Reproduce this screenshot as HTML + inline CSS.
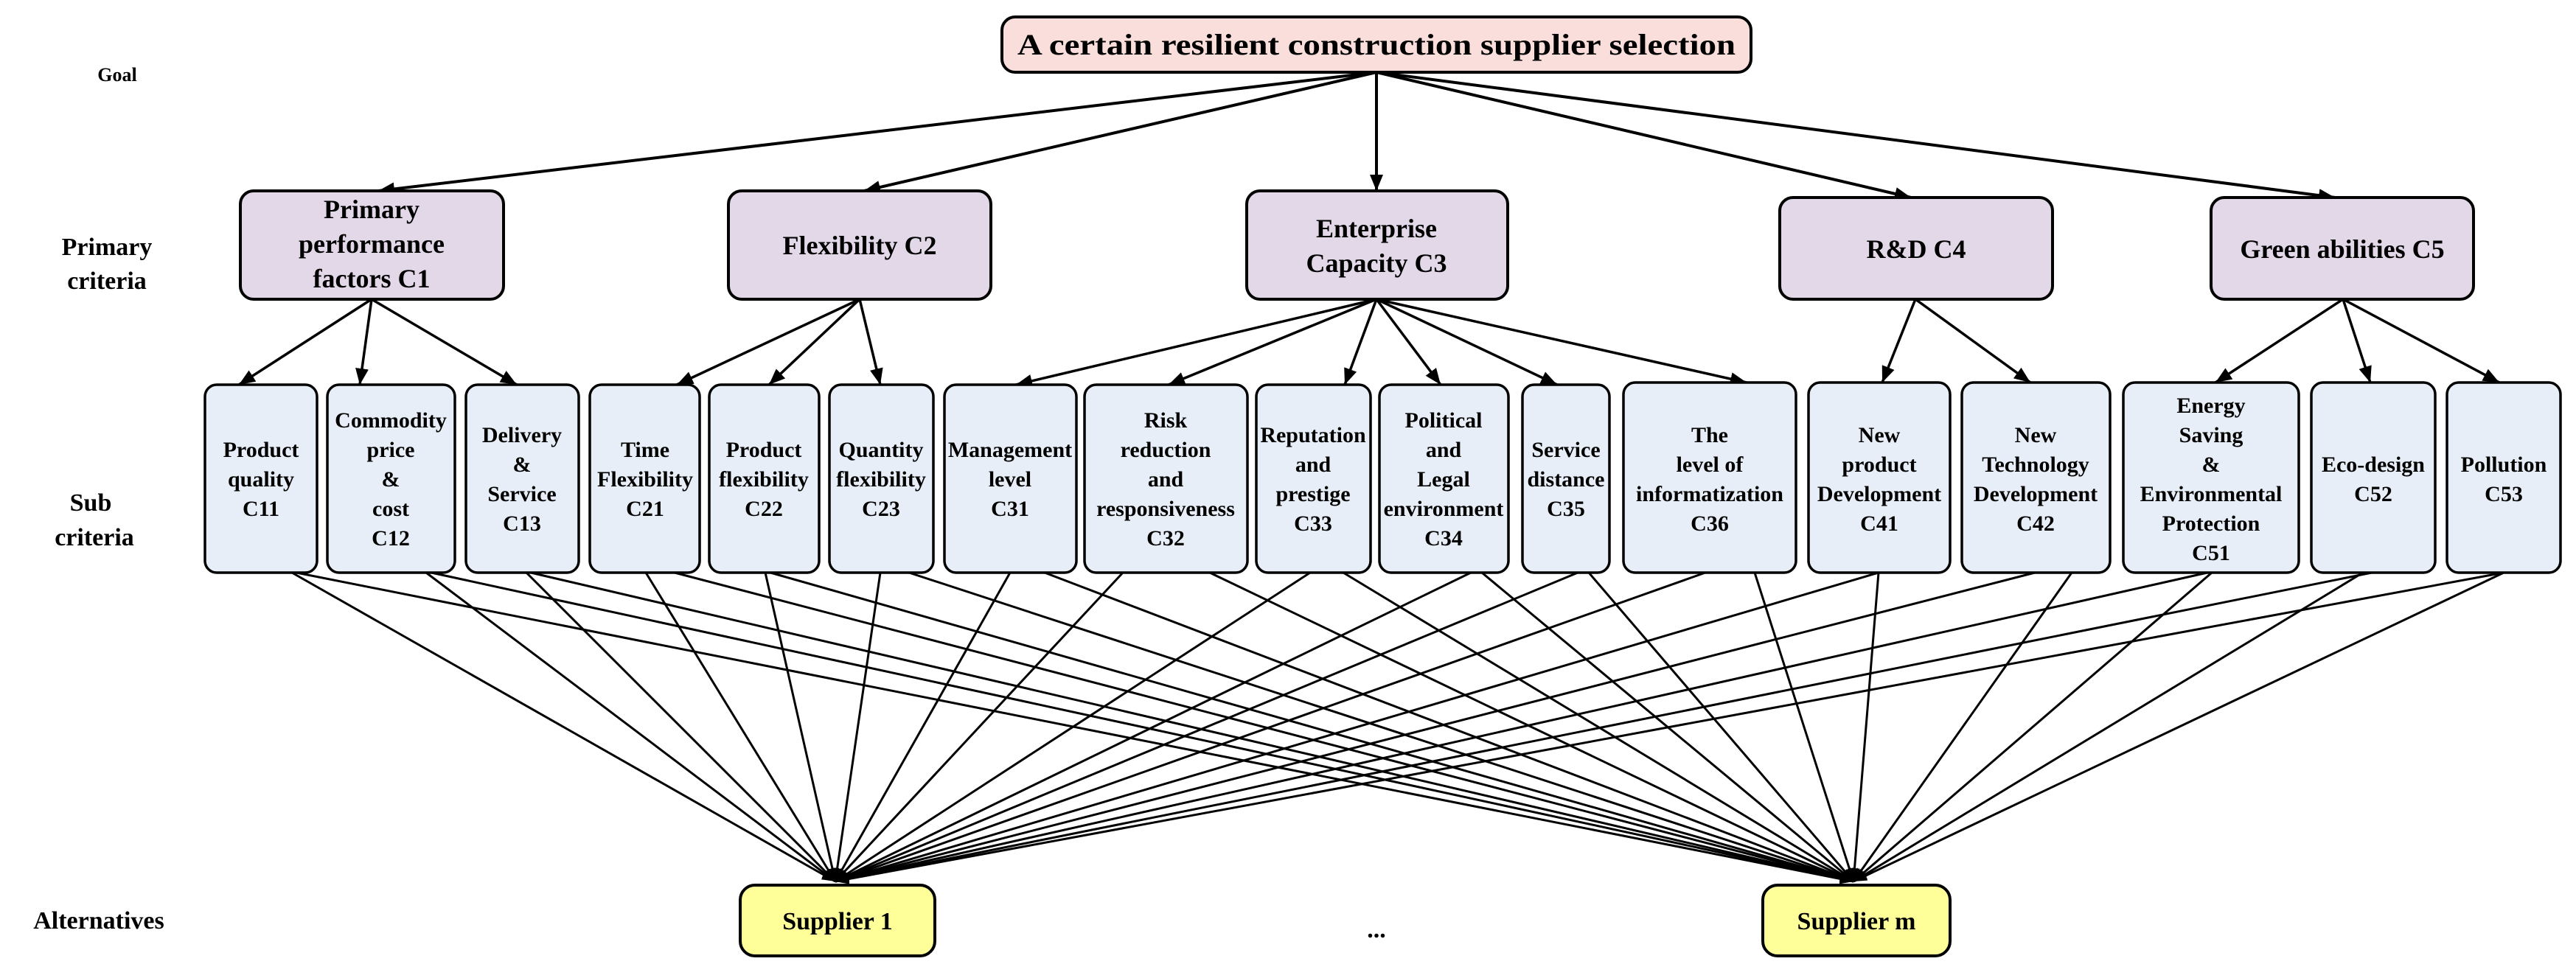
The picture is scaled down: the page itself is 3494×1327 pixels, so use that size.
<!DOCTYPE html>
<html><head><meta charset="utf-8"><style>
html,body{margin:0;padding:0;background:#fff;}
svg{display:block;}
text{font-family:"Liberation Serif",serif;font-weight:bold;fill:#000;}
</style></head><body>
<svg width="3494" height="1327" viewBox="0 0 3494 1327" xmlns="http://www.w3.org/2000/svg">
<defs>
<marker id="ah" markerUnits="userSpaceOnUse" markerWidth="24" markerHeight="18" refX="22" refY="9" orient="auto">
<path d="M0,0 L22,9 L0,18 z" fill="#000"/></marker>
<marker id="ah2" markerUnits="userSpaceOnUse" markerWidth="20" markerHeight="14" refX="18" refY="7" orient="auto">
<path d="M0,0 L18,7 L0,14 z" fill="#000"/></marker>
</defs>

<!-- left labels -->
<text x="159" y="110" font-size="26" text-anchor="middle">Goal</text>
<text x="145" y="346" font-size="34" text-anchor="middle">Primary</text>
<text x="145" y="392" font-size="34" text-anchor="middle">criteria</text>
<text x="123" y="693" font-size="34" text-anchor="middle">Sub</text>
<text x="128" y="740" font-size="34" text-anchor="middle">criteria</text>
<text x="134" y="1260" font-size="34" text-anchor="middle">Alternatives</text>

<!-- goal -->
<rect x="1359" y="23" width="1016" height="75" rx="18" fill="#f9dedb" stroke="#000" stroke-width="4"/>
<text x="1867" y="74" font-size="40" text-anchor="middle" textLength="974" lengthAdjust="spacingAndGlyphs">A certain resilient construction supplier selection</text>

<!-- goal to primary arrows -->
<g stroke="#000" stroke-width="4" fill="none" marker-end="url(#ah)">
<line x1="1867" y1="98" x2="513" y2="259"/>
<line x1="1867" y1="98" x2="1172" y2="259"/>
<line x1="1867" y1="98" x2="1867" y2="259"/>
<line x1="1867" y1="98" x2="2592" y2="268"/>
<line x1="1867" y1="98" x2="3167" y2="268"/>
</g>

<!-- primary boxes -->
<g fill="#e2d8e8" stroke="#000" stroke-width="4">
<rect x="326" y="259" width="357" height="147" rx="18"/>
<rect x="988" y="259" width="356" height="147" rx="18"/>
<rect x="1691" y="259" width="354" height="147" rx="18"/>
<rect x="2414" y="268" width="370" height="138" rx="18"/>
<rect x="2999" y="268" width="356" height="138" rx="18"/>
</g>
<g font-size="36" text-anchor="middle">
<text x="504" y="296">Primary</text>
<text x="504" y="343">performance</text>
<text x="504" y="390">factors C1</text>
<text x="1166" y="345">Flexibility C2</text>
<text x="1867" y="322">Enterprise</text>
<text x="1867" y="369">Capacity C3</text>
<text x="2599" y="350">R&amp;D C4</text>
<text x="3177" y="350">Green abilities C5</text>
</g>

<!-- primary to sub arrows -->
<g stroke="#000" stroke-width="3.5" fill="none" marker-end="url(#ah)">
<line x1="504" y1="406" x2="324" y2="522"/>
<line x1="504" y1="406" x2="488" y2="522"/>
<line x1="504" y1="406" x2="701" y2="522"/>
<line x1="1166" y1="406" x2="918" y2="522"/>
<line x1="1166" y1="406" x2="1043" y2="522"/>
<line x1="1166" y1="406" x2="1194" y2="522"/>
<line x1="1867" y1="406" x2="1378" y2="522"/>
<line x1="1867" y1="406" x2="1585" y2="522"/>
<line x1="1867" y1="406" x2="1824" y2="522"/>
<line x1="1867" y1="406" x2="1954" y2="522"/>
<line x1="1867" y1="406" x2="2112" y2="522"/>
<line x1="1867" y1="406" x2="2369" y2="519"/>
<line x1="2598" y1="406" x2="2553" y2="519"/>
<line x1="2598" y1="406" x2="2754" y2="519"/>
<line x1="3178" y1="406" x2="3005" y2="519"/>
<line x1="3178" y1="406" x2="3215" y2="519"/>
<line x1="3178" y1="406" x2="3390" y2="519"/>
</g>

<!-- sub to supplier lines -->
<g stroke="#000" stroke-width="3" fill="none">
<line x1="396" y1="777" x2="1133" y2="1196" marker-end="url(#ah2)"/><line x1="402" y1="777" x2="2514" y2="1196" marker-end="url(#ah2)"/>
<line x1="578" y1="777" x2="1133" y2="1196" marker-end="url(#ah2)"/><line x1="585" y1="777" x2="2514" y2="1196" marker-end="url(#ah2)"/>
<line x1="714" y1="777" x2="1133" y2="1196" marker-end="url(#ah2)"/><line x1="720" y1="777" x2="2514" y2="1196" marker-end="url(#ah2)"/>
<line x1="876" y1="777" x2="1133" y2="1196" marker-end="url(#ah2)"/><line x1="915" y1="777" x2="2514" y2="1196" marker-end="url(#ah2)"/>
<line x1="1038" y1="777" x2="1133" y2="1196" marker-end="url(#ah2)"/><line x1="1045" y1="777" x2="2514" y2="1196" marker-end="url(#ah2)"/>
<line x1="1194" y1="777" x2="1133" y2="1196" marker-end="url(#ah2)"/><line x1="1233" y1="777" x2="2514" y2="1196" marker-end="url(#ah2)"/>
<line x1="1370" y1="777" x2="1133" y2="1196" marker-end="url(#ah2)"/><line x1="1417" y1="777" x2="2514" y2="1196" marker-end="url(#ah2)"/>
<line x1="1523" y1="777" x2="1133" y2="1196" marker-end="url(#ah2)"/><line x1="1641" y1="777" x2="2514" y2="1196" marker-end="url(#ah2)"/>
<line x1="1777" y1="777" x2="1133" y2="1196" marker-end="url(#ah2)"/><line x1="1822" y1="777" x2="2514" y2="1196" marker-end="url(#ah2)"/>
<line x1="1995" y1="777" x2="1133" y2="1196" marker-end="url(#ah2)"/><line x1="2010" y1="777" x2="2514" y2="1196" marker-end="url(#ah2)"/>
<line x1="2140" y1="777" x2="1133" y2="1196" marker-end="url(#ah2)"/><line x1="2155" y1="777" x2="2514" y2="1196" marker-end="url(#ah2)"/>
<line x1="2313" y1="777" x2="1133" y2="1196" marker-end="url(#ah2)"/><line x1="2380" y1="777" x2="2514" y2="1196" marker-end="url(#ah2)"/>
<line x1="2548" y1="777" x2="1133" y2="1196" marker-end="url(#ah2)"/><line x1="2548" y1="777" x2="2514" y2="1196" marker-end="url(#ah2)"/>
<line x1="2760" y1="777" x2="1133" y2="1196" marker-end="url(#ah2)"/><line x1="2810" y1="777" x2="2514" y2="1196" marker-end="url(#ah2)"/>
<line x1="2994" y1="777" x2="1133" y2="1196" marker-end="url(#ah2)"/><line x1="3000" y1="777" x2="2514" y2="1196" marker-end="url(#ah2)"/>
<line x1="3217" y1="777" x2="1133" y2="1196" marker-end="url(#ah2)"/><line x1="3205" y1="777" x2="2514" y2="1196" marker-end="url(#ah2)"/>
<line x1="3396" y1="777" x2="1133" y2="1196" marker-end="url(#ah2)"/><line x1="3396" y1="777" x2="2514" y2="1196" marker-end="url(#ah2)"/>
</g>

<!-- sub boxes -->
<g fill="#e7eef7" stroke="#000" stroke-width="3.5">
<rect x="278" y="522" width="152" height="255" rx="16"/>
<rect x="444" y="522" width="173" height="255" rx="16"/>
<rect x="632" y="522" width="153" height="255" rx="16"/>
<rect x="800" y="522" width="149" height="255" rx="16"/>
<rect x="962" y="522" width="149" height="255" rx="16"/>
<rect x="1125" y="522" width="141" height="255" rx="16"/>
<rect x="1281" y="522" width="179" height="255" rx="16"/>
<rect x="1471" y="522" width="221" height="255" rx="16"/>
<rect x="1704" y="522" width="155" height="255" rx="16"/>
<rect x="1871" y="522" width="175" height="255" rx="16"/>
<rect x="2065" y="522" width="118" height="255" rx="16"/>
<rect x="2202" y="519" width="234" height="258" rx="16"/>
<rect x="2453" y="519" width="192" height="258" rx="16"/>
<rect x="2661" y="519" width="201" height="258" rx="16"/>
<rect x="2880" y="519" width="238" height="258" rx="16"/>
<rect x="3135" y="519" width="168" height="258" rx="16"/>
<rect x="3319" y="519" width="154" height="258" rx="16"/>
</g>
<g font-size="30" text-anchor="middle">
<text x="354" y="620">Product</text><text x="354" y="660">quality</text><text x="354" y="700">C11</text>
<text x="530" y="580">Commodity</text><text x="530" y="620">price</text><text x="530" y="660">&amp;</text><text x="530" y="700">cost</text><text x="530" y="740">C12</text>
<text x="708" y="600">Delivery</text><text x="708" y="640">&amp;</text><text x="708" y="680">Service</text><text x="708" y="720">C13</text>
<text x="875" y="620">Time</text><text x="875" y="660">Flexibility</text><text x="875" y="700">C21</text>
<text x="1036" y="620">Product</text><text x="1036" y="660">flexibility</text><text x="1036" y="700">C22</text>
<text x="1195" y="620">Quantity</text><text x="1195" y="660">flexibility</text><text x="1195" y="700">C23</text>
<text x="1370" y="620">Management</text><text x="1370" y="660">level</text><text x="1370" y="700">C31</text>
<text x="1581" y="580">Risk</text><text x="1581" y="620">reduction</text><text x="1581" y="660">and</text><text x="1581" y="700">responsiveness</text><text x="1581" y="740">C32</text>
<text x="1781" y="600">Reputation</text><text x="1781" y="640">and</text><text x="1781" y="680">prestige</text><text x="1781" y="720">C33</text>
<text x="1958" y="580">Political</text><text x="1958" y="620">and</text><text x="1958" y="660">Legal</text><text x="1958" y="700">environment</text><text x="1958" y="740">C34</text>
<text x="2124" y="620">Service</text><text x="2124" y="660">distance</text><text x="2124" y="700">C35</text>
<text x="2319" y="600">The</text><text x="2319" y="640">level of</text><text x="2319" y="680">informatization</text><text x="2319" y="720">C36</text>
<text x="2549" y="600">New</text><text x="2549" y="640">product</text><text x="2549" y="680">Development</text><text x="2549" y="720">C41</text>
<text x="2761" y="600">New</text><text x="2761" y="640">Technology</text><text x="2761" y="680">Development</text><text x="2761" y="720">C42</text>
<text x="2999" y="560">Energy</text><text x="2999" y="600">Saving</text><text x="2999" y="640">&amp;</text><text x="2999" y="680">Environmental</text><text x="2999" y="720">Protection</text><text x="2999" y="760">C51</text>
<text x="3219" y="640">Eco-design</text><text x="3219" y="680">C52</text>
<text x="3396" y="640">Pollution</text><text x="3396" y="680">C53</text>
</g>

<!-- suppliers -->
<rect x="1004" y="1201" width="264" height="96" rx="20" fill="#ffff99" stroke="#000" stroke-width="4"/>
<text x="1136" y="1261" font-size="34" text-anchor="middle">Supplier 1</text>
<rect x="2391" y="1201" width="254" height="96" rx="20" fill="#ffff99" stroke="#000" stroke-width="4"/>
<text x="2518" y="1261" font-size="34" text-anchor="middle">Supplier m</text>
<text x="1867" y="1272" font-size="34" text-anchor="middle">...</text>
</svg>
</body></html>
